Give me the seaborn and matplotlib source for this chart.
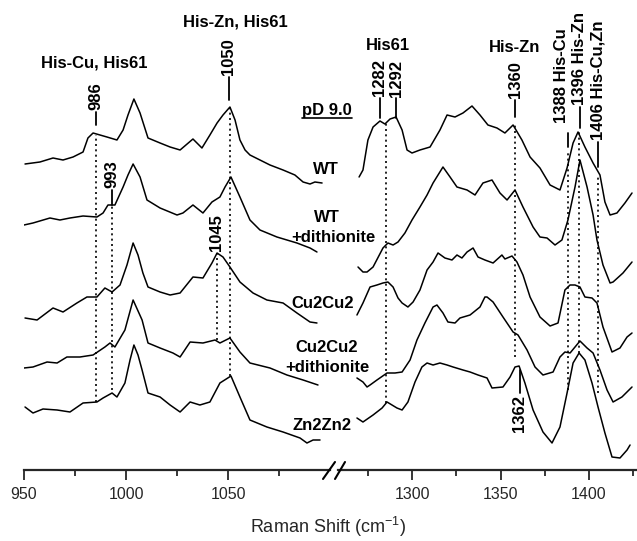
import matplotlib
matplotlib.use("Agg")
import matplotlib.pyplot as plt
from matplotlib.lines import Line2D
import seaborn as sns

sns.set_style("ticks")
plt.rcParams["font.family"] = ["Liberation Sans", "DejaVu Sans"]
plt.rcParams["mathtext.default"] = "regular"

# ---------------- data (wavenumber cm-1, offset intensity a.u.) ----------------
samples = ["WT", "WT +dithionite", "Cu2Cu2", "Cu2Cu2 +dithionite", "Zn2Zn2"]

wt_lx = [950.5, 957.8, 964.2, 969.1, 974.0, 978.9, 981.3, 983.8, 987.2, 990.6, 995.5, 998.5, 1000.9, 1003.8,
         1006.8, 1008.2, 1010.7, 1016.6, 1021.5, 1026.4, 1032.7, 1037.1, 1041.0, 1044.5, 1047.4, 1050.8,
         1053.3, 1055.7, 1058.2, 1060.6, 1065.5, 1070.4, 1076.8, 1082.6, 1086.6, 1090.0, 1092.4, 1095.9]
wt_ly = [306, 308, 312, 310, 313, 318, 332, 337, 335, 333, 330, 340, 355, 371,
         357, 348, 332, 327, 323, 320, 331, 322, 335, 347, 355, 363,
         350, 330, 320, 315, 310, 305, 300, 295, 288, 286, 288, 287]
wt_rx = [1270.1, 1272.3, 1275.1, 1278.0, 1281.9, 1284.7, 1287.6, 1291.0, 1294.4, 1297.2, 1300.0, 1304.5,
         1310.2, 1315.8, 1319.8, 1324.3, 1328.8, 1333.9, 1338.4, 1342.9, 1348.0, 1352.5, 1357.1, 1362.1,
         1366.7, 1372.3, 1378.0, 1383.6, 1387.6, 1391.0, 1393.8, 1397.7, 1402.3, 1406.2, 1409.0, 1411.9,
         1415.8, 1420.3, 1424.3]
wt_ry = [293, 300, 330, 343, 349, 346, 351, 353, 340, 320, 317, 320,
         323, 340, 355, 353, 357, 364, 355, 345, 342, 337, 345, 330,
         313, 302, 285, 280, 302, 327, 338, 323, 307, 295, 268, 255,
         257, 267, 277]

wtd_lx = [950.0, 954.4, 962.7, 967.6, 972.5, 978.9, 985.7, 988.7, 991.1, 994.5, 998.5, 1000.9, 1003.4,
          1006.8, 1010.2, 1016.6, 1024.9, 1027.8, 1032.7, 1037.6, 1042.0, 1045.9, 1048.4, 1051.3, 1055.7,
          1060.6, 1065.5, 1073.8, 1083.6, 1090.0, 1093.4]
wtd_ly = [245, 247, 252, 250, 252, 254, 253, 257, 265, 265, 283, 295, 306,
          293, 270, 262, 255, 257, 265, 257, 268, 273, 283, 293, 273,
          250, 240, 233, 227, 222, 218]
wtd_rx = [1269.5, 1272.3, 1274.6, 1278.0, 1283.6, 1286.4, 1289.3, 1292.1, 1296.0, 1300.0, 1304.5, 1308.5,
          1311.9, 1317.5, 1321.5, 1325.4, 1331.1, 1335.6, 1340.1, 1345.2, 1349.7, 1353.7, 1358.2, 1362.7,
          1368.4, 1372.3, 1376.3, 1380.8, 1384.7, 1388.1, 1392.1, 1394.9, 1398.9, 1402.3, 1404.5, 1407.9,
          1411.9, 1413.6, 1419.2, 1424.3]
wtd_ry = [203, 198, 198, 203, 222, 227, 225, 228, 237, 250, 263, 275,
          287, 303, 293, 283, 280, 275, 287, 290, 277, 270, 280, 263,
          243, 233, 232, 225, 230, 250, 283, 310, 283, 255, 230, 205,
          187, 188, 197, 208]

cu_lx = [950.5, 956.4, 964.2, 969.1, 975.9, 980.8, 985.7, 989.6, 993.1, 997.0, 1000.4, 1003.4, 1005.8,
         1008.2, 1010.7, 1016.6, 1021.5, 1026.4, 1032.7, 1037.6, 1042.0, 1044.5, 1047.4, 1050.8, 1055.7,
         1062.1, 1068.9, 1076.8, 1083.6, 1090.0, 1093.4]
cu_ly = [152, 150, 162, 158, 167, 173, 173, 182, 178, 185, 205, 227, 215,
         197, 183, 178, 175, 177, 193, 192, 207, 217, 213, 203, 188,
         177, 170, 167, 157, 148, 147]
cu_rx = [1268.9, 1272.3, 1276.3, 1280.2, 1283.6, 1286.4, 1289.3, 1292.1, 1294.4, 1297.7, 1300.6, 1304.5,
         1308.5, 1311.9, 1314.7, 1318.6, 1322.6, 1325.4, 1328.2, 1331.1, 1334.5, 1337.3, 1341.2, 1345.8,
         1350.8, 1352.5, 1356.5, 1359.3, 1362.7, 1366.7, 1372.3, 1378.0, 1382.5, 1386.4, 1389.3, 1392.1,
         1394.9, 1397.7, 1401.7, 1404.5, 1407.9, 1413.0, 1417.5, 1421.5, 1424.3]
cu_ry = [155, 167, 183, 185, 187, 188, 183, 172, 167, 163, 168, 180,
         200, 208, 217, 212, 210, 215, 212, 218, 222, 213, 210, 207,
         215, 211, 214, 208, 195, 173, 153, 144, 147, 180, 185, 185,
         183, 173, 172, 167, 143, 118, 122, 133, 137]

cud_lx = [950.0, 954.4, 961.3, 966.2, 971.0, 977.4, 983.8, 989.6, 992.1, 994.5, 999.4, 1003.4, 1007.8,
          1010.7, 1016.6, 1022.9, 1026.4, 1031.3, 1037.6, 1043.5, 1045.9, 1050.8, 1055.7, 1060.6, 1070.4,
          1078.7, 1086.6, 1093.9]
cud_ly = [102, 103, 108, 107, 113, 113, 115, 123, 127, 123, 140, 170, 150,
          127, 122, 117, 113, 128, 127, 130, 127, 132, 118, 107, 102,
          95, 90, 85]
cud_rx = [1268.9, 1272.3, 1274.6, 1276.3, 1280.2, 1285.9, 1290.4, 1294.4, 1298.9, 1302.8, 1307.3, 1311.9,
          1314.1, 1317.5, 1320.3, 1324.3, 1327.1, 1332.8, 1338.4, 1341.2, 1342.4, 1345.8, 1351.4, 1357.1,
          1359.9, 1365.0, 1369.5, 1374.0, 1379.7, 1383.6, 1386.4, 1389.3, 1392.1, 1394.9, 1398.9, 1402.3,
          1406.2, 1410.2, 1413.6, 1418.6, 1424.3]
cud_ry = [92, 88, 83, 85, 90, 97, 97, 98, 110, 130, 147, 163,
          165, 157, 148, 147, 152, 155, 163, 173, 173, 168, 153, 138,
          135, 120, 103, 95, 98, 113, 118, 117, 123, 129, 122, 117,
          100, 80, 68, 73, 83]

zn_lx = [950.5, 954.4, 959.3, 966.2, 972.5, 978.9, 985.7, 988.7, 993.1, 995.5, 999.4, 1001.9, 1003.8,
         1005.8, 1007.8, 1010.7, 1016.6, 1021.5, 1026.4, 1031.3, 1036.1, 1041.0, 1045.9, 1051.3, 1055.7,
         1060.6, 1068.9, 1076.8, 1085.1, 1088.5, 1091.5, 1094.9]
zn_ly = [63, 57, 61, 60, 58, 67, 68, 72, 77, 73, 87, 110, 125,
         115, 100, 77, 73, 65, 58, 68, 65, 68, 87, 94, 73,
         50, 43, 38, 32, 27, 30, 30]
zn_rx = [1268.9, 1272.3, 1278.0, 1283.1, 1285.9, 1288.7, 1291.5, 1294.4, 1297.7, 1301.7, 1305.6, 1308.5,
         1311.9, 1315.8, 1319.8, 1323.2, 1328.8, 1332.8, 1337.3, 1342.4, 1345.2, 1351.4, 1355.4, 1358.2,
         1360.5, 1363.8, 1368.4, 1374.0, 1379.1, 1383.6, 1387.6, 1391.0, 1394.4, 1397.7, 1401.7, 1405.1,
         1409.0, 1413.0, 1417.5, 1421.5, 1423.2]
zn_ry = [52, 48, 55, 62, 68, 65, 62, 60, 68, 88, 103, 107,
         105, 107, 105, 103, 100, 98, 95, 92, 82, 83, 93, 103,
         104, 87, 60, 38, 27, 43, 77, 107, 117, 110, 87, 63,
         37, 13, 12, 20, 25]

left_x = [wt_lx, wtd_lx, cu_lx, cud_lx, zn_lx]
left_y = [wt_ly, wtd_ly, cu_ly, cud_ly, zn_ly]
right_x = [wt_rx, wtd_rx, cu_rx, cud_rx, zn_rx]
right_y = [wt_ry, wtd_ry, cu_ry, cud_ry, zn_ry]

# marker lines: (position, y_bottom, y_top)
left_dotted = [(985.2, 68, 335), (993.1, 80, 265), (1044.5, 130, 217), (1050.8, 94, 363)]
right_dotted = [(1285.3, 67, 347), (1358.2, 113, 345), (1388.1, 80, 320), (1394.4, 117, 338), (1405.1, 77, 293)]

# ---------------- figure ----------------
W, H = 637, 541
fig = plt.figure(figsize=(W / 100, H / 100), dpi=100)
bottom = (H - 470) / H
height = 470 / H
axL = fig.add_axes([24 / W, bottom, 306 / W, height])
axR = fig.add_axes([338 / W, bottom, 298 / W, height])

for ax, xs, ys in [(axL, left_x, left_y), (axR, right_x, right_y)]:
    for x, y in zip(xs, ys):
        sns.lineplot(x=x, y=y, ax=ax, color="black", lw=1.1, estimator=None, sort=False)
    ax.set_ylim(0, 470)
    ax.set_yticks([])
    ax.set_ylabel("")
    ax.set_xlabel("")
    for s in ["top", "right", "left"]:
        ax.spines[s].set_visible(False)
    ax.spines["bottom"].set_linewidth(1.6)
    ax.patch.set_alpha(0)
    ax.tick_params(axis="x", which="major", direction="out", length=7, width=1.3, labelsize=11.5, pad=5)
    ax.tick_params(axis="x", which="minor", direction="out", length=4, width=1.3)

axL.set_xlim(950, 950 + 306 / 2.043)
axR.set_xlim(1300 + (338 - 412) / 1.77, 1300 + (636 - 412) / 1.77)
axL.set_xticks([950, 1000, 1050])
axL.set_xticks([975, 1025, 1075], minor=True)
axR.set_xticks([1300, 1350, 1400])
axR.set_xticks([1275, 1325, 1375, 1425], minor=True)

dot = dict(color="black", lw=1.2, linestyle=(0, (1.2, 2.0)))
for ax, lines in [(axL, left_dotted), (axR, right_dotted)]:
    for xv, y0, y1 in lines:
        ax.plot([xv, xv], [y0, y1], **dot)

bold = dict(fontsize=12, fontweight="bold", color="black")
# group labels
axL.text(984.3, 407, "His-Cu, His61", ha="center", va="center", **bold)
axL.text(1053.3, 448, "His-Zn, His61", ha="center", va="center", **bold)
axR.text(1286.4, 425, "His61", ha="center", va="center", **bold)
axR.text(1358.2, 423, "His-Zn", ha="center", va="center", **bold)


def tag(ax, xv, y0, y1, label, tx=None, gap=2):
    ax.plot([xv, xv], [y0, y1], color="black", lw=1.3)
    ax.text(xv if tx is None else tx, y1 + gap, label, rotation=90, ha="center", va="bottom", **bold)


tag(axL, 985.2, 345, 358, "986")
tag(axL, 993.1, 265, 280, "993")
tag(axL, 1050.3, 370, 393, "1050")
axL.text(1044.0, 219, "1045", rotation=90, ha="center", va="bottom", **bold)
tag(axR, 1281.9, 352, 372, "1282")
tag(axR, 1291.0, 352, 372, "1292", gap=1)
tag(axR, 1358.2, 353, 370, "1360")
axR.plot([1388.1, 1388.1], [323, 337], color="black", lw=1.3)
axR.text(1384.7, 347, "1388 His-Cu", rotation=90, ha="center", va="bottom", **bold)
tag(axR, 1394.9, 342, 363, "1396 His-Zn")
tag(axR, 1405.1, 303, 328, "1406 His-Cu,Zn")
axR.plot([1361.0, 1361.0], [77, 100], color="black", lw=1.3)
axR.text(1360.5, 75, "1362", rotation=90, ha="center", va="top", **bold)

# pD label with underline
pd_x0 = 950 + (302 - 24) / 2.043
pd_x1 = 950 + (352 - 24) / 2.043
axL.text(pd_x0, 360, "pD 9.0", ha="left", va="center", clip_on=False, **bold)
axL.plot([pd_x0, pd_x1], [352, 352], color="black", lw=1.2, clip_on=False)

# sample names
def px(xp):
    return 950 + (xp - 24) / 2.043

name_pos = [("WT", 326, 300), ("WT", 327, 253), ("+dithionite", 333, 233),
            ("Cu2Cu2", 323, 167), ("Cu2Cu2", 327, 123), ("+dithionite", 327, 103),
            ("Zn2Zn2", 322, 45)]
for t, xp, yv in name_pos:
    axL.text(px(xp), yv, t, ha="center", va="center", clip_on=False, **bold)

# axis break marks
for x0, x1 in [(323, 335), (335, 345)]:
    fig.add_artist(Line2D([x0 / W, x1 / W], [(H - 479) / H, (H - 462) / H], color="black", lw=1.5))

fig.text(328 / W, (H - 533) / H, r"Raman Shift (cm$^{\mathregular{-1}}$)", ha="center", va="baseline", fontsize=13)

fig.savefig("out.png", dpi=100)
